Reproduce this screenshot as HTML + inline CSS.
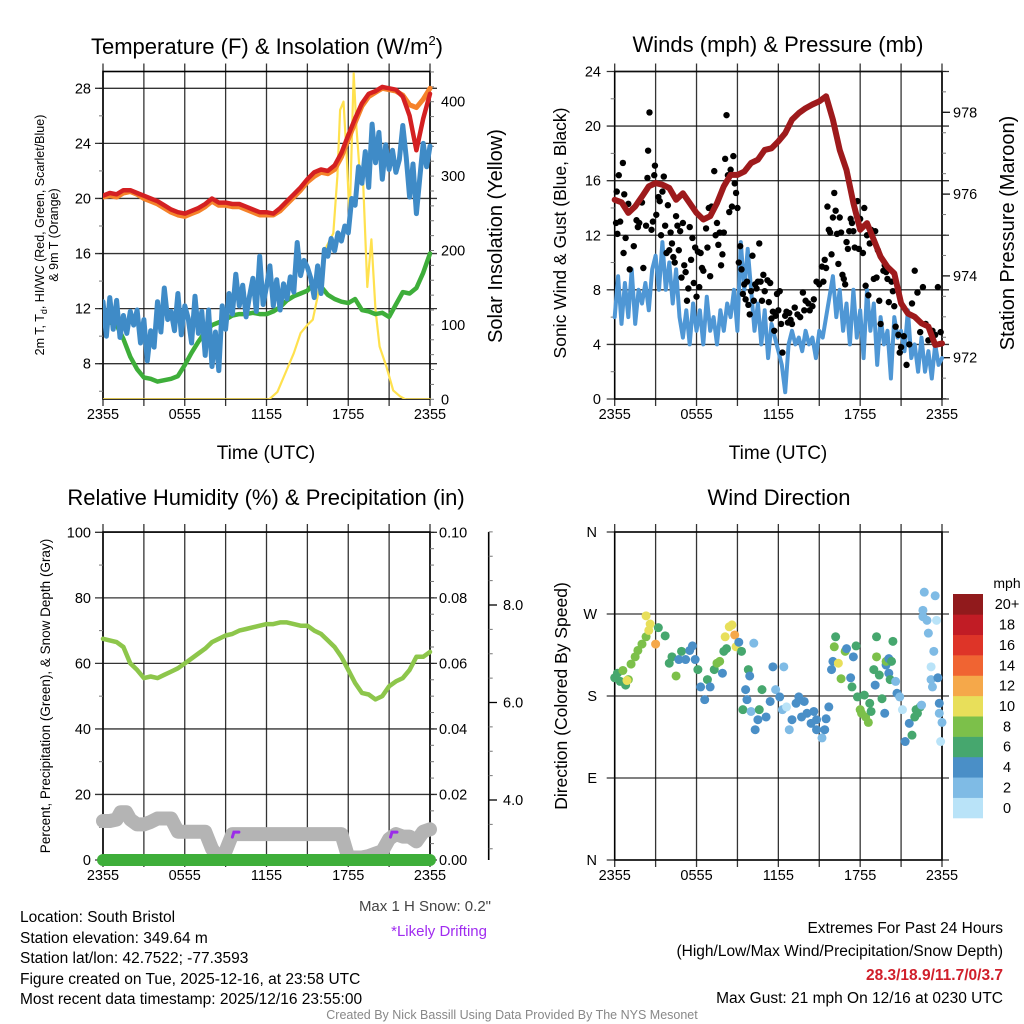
<!DOCTYPE html>
<html><head><meta charset="utf-8"><style>
html,body{margin:0;padding:0;background:#fff;}
svg{display:block;font-family:"Liberation Sans",Arial,sans-serif;}
</style></head><body>
<svg id="chart" xmlns="http://www.w3.org/2000/svg" width="1024" height="1024" viewBox="0 0 1024 1024">
<rect x="0" y="0" width="1024" height="1024" fill="#fff"/>
<text x="267" y="54" font-size="22" text-anchor="middle">Temperature (F) &amp; Insolation (W/m<tspan font-size="13" dy="-9">2</tspan><tspan dy="9">)</tspan></text>
<text x="778" y="52" font-size="22" text-anchor="middle">Winds (mph) &amp; Pressure (mb)</text>
<text x="266" y="505" font-size="22" text-anchor="middle">Relative Humidity (%) &amp; Precipitation (in)</text>
<text x="779" y="505" font-size="22" text-anchor="middle">Wind Direction</text>
<text x="266" y="459" font-size="19" text-anchor="middle">Time (UTC)</text>
<text x="778" y="459" font-size="19" text-anchor="middle">Time (UTC)</text>
<g transform="translate(44,235) rotate(-90)">
<text x="0" y="0" font-size="12.5" text-anchor="middle">2m T, T<tspan font-size="9" dy="3">d</tspan><tspan dy="-3">, HI/WC (Red, Green, Scarlet/Blue)</tspan></text>
<text x="0" y="14" font-size="12.5" text-anchor="middle">&amp; 9m T (Orange)</text></g>
<text transform="translate(502,236) rotate(-90)" font-size="20" text-anchor="middle">Solar Insolation (Yellow)</text>
<text transform="translate(566,233) rotate(-90)" font-size="17.5" text-anchor="middle">Sonic Wind &amp; Gust (Blue, Black)</text>
<text transform="translate(1014,233) rotate(-90)" font-size="20" text-anchor="middle">Station Pressure (Maroon)</text>
<text transform="translate(50,696) rotate(-90)" font-size="13.5" text-anchor="middle">Percent, Precipitation (Green), &amp; Snow Depth (Gray)</text>
<text transform="translate(567,696) rotate(-90)" font-size="17.5" text-anchor="middle">Direction (Colored By Speed)</text>
<text x="491" y="911" font-size="15" fill="#444" text-anchor="end">Max 1 H Snow: 0.2"</text>
<text x="487" y="936" font-size="15" fill="#a02cf0" text-anchor="end">*Likely Drifting</text>
<g font-size="15.5">
<text x="20" y="922">Location: South Bristol</text>
<text x="20" y="943">Station elevation: 349.64 m</text>
<text x="20" y="963">Station lat/lon: 42.7522; -77.3593</text>
<text x="20" y="984">Figure created on Tue, 2025-12-16, at 23:58 UTC</text>
<text x="20" y="1004">Most recent data timestamp: 2025/12/16 23:55:00</text></g>
<g font-size="15.5" text-anchor="end">
<text x="1003" y="933">Extremes For Past 24 Hours</text>
<text x="1003" y="956">(High/Low/Max Wind/Precipitation/Snow Depth)</text>
<text x="1003" y="980" fill="#d01f2a" font-weight="bold">28.3/18.9/11.7/0/3.7</text>
<text x="1003" y="1003">Max Gust: 21 mph On 12/16 at 0230 UTC</text></g>
<text x="512" y="1019" font-size="12.5" fill="#888" text-anchor="middle">Created By Nick Bassill Using Data Provided By The NYS Mesonet</text>
<text x="1007" y="588" font-size="14" text-anchor="middle">mph</text>
</svg>
<script>
// ---------- data ----------
const halfHours = [0,0.5,1,1.5,2,2.5,3,3.5,4,4.5,5,5.5,6,6.5,7,7.5,8,8.5,9,9.5,10,10.5,11,11.5,12,12.5,13,13.5,14,14.5,15,15.5,16,16.5,17,17.5,18,18.5,19,19.5,20,20.5,21,21.5,22,22.5,23,23.5,24];
const temp2m = [20.2,20.4,20.3,20.6,20.6,20.4,20.2,20.0,19.8,19.5,19.2,19.0,18.9,19.1,19.3,19.6,20.0,19.7,19.7,19.6,19.6,19.4,19.2,19.0,19.0,18.9,19.3,19.8,20.3,20.8,21.4,21.9,22.1,22.0,22.4,23.3,24.6,25.8,26.9,27.6,27.8,28.1,28.0,27.9,27.4,26.0,23.5,25.8,27.6];
const temp9m = [20.1,20.2,20.1,20.4,20.5,20.3,20.0,19.8,19.6,19.3,19.0,18.8,18.7,18.9,19.1,19.4,19.8,19.5,19.5,19.4,19.4,19.2,19.0,18.8,18.8,18.8,19.1,19.6,20.1,20.6,21.2,21.6,21.9,21.8,22.1,23.0,24.3,25.5,26.7,27.4,27.7,28.0,27.9,27.8,27.5,26.8,26.6,27.2,28.0];
const dewpoint = [11.3,11.0,10.8,9.8,8.5,7.6,7.0,6.9,6.7,6.8,6.9,7.1,7.9,8.8,9.6,10.3,10.8,11.0,11.2,11.5,11.6,11.6,11.7,11.6,11.6,11.8,12.1,12.6,12.9,13.1,13.3,13.9,13.6,13.0,12.7,12.5,12.4,12.7,11.9,11.8,11.6,11.7,11.4,12.3,13.2,13.1,13.5,14.6,16.0];
const windChill = [12.5,10,12.8,10.5,12.6,9.9,11.5,10.2,11.8,10.8,11.9,9.5,11.2,8.2,10.4,9.2,12.5,10.3,13.5,11.2,11.8,10.4,13.1,10.1,12.2,11.3,9.5,12.9,10.2,11.8,8.6,11.9,7.8,10.3,7.5,12.2,10.5,13.1,11.6,14.5,12.2,13.7,11.4,12.9,14.2,11.8,15.8,12.3,13.6,15.1,12.2,14.1,11.9,13.8,12.7,14.3,13.2,16.8,14.4,15.5,15.0,14.2,12.8,15.1,13.1,16.3,15.8,17.1,16.2,17.5,16.9,18.0,17.5,20.0,19.5,22.3,21.1,23.4,20.8,25.4,22.6,24.8,21.4,23.9,22.1,23.5,21.9,22.8,25.3,23.0,20.1,22.5,18.9,21.5,24.0,22.3,23.8];
const solarHours = [0,12.2,12.8,13.5,14.0,14.5,15.0,15.4,15.9,16.4,16.9,17.2,17.4,17.65,17.9,18.1,18.4,18.6,18.9,19.1,19.4,19.6,19.7,20.0,20.3,20.8,21.3,21.8,22.2,24];
const solarValues = [0,0,10,40,62,89,100,107,151,205,223,300,389,400,321,241,438,366,291,290,151,195,215,120,71,44,12,4,0,0];
const pressure = [975.86,975.8,975.54,975.7,975.94,976.19,976.27,976.23,976.15,975.86,976.02,975.78,975.54,975.38,975.46,975.78,976.19,976.47,976.47,976.55,976.76,976.84,977.08,977.12,977.29,977.49,977.82,977.98,978.1,978.19,978.27,978.39,977.82,977.08,976.59,975.78,975.13,975.29,974.88,974.47,974.22,974.06,973.33,973.08,973.0,972.84,972.76,972.31,972.35];
const windSpeed = [6,9,5.5,8.5,6,9.5,5.5,8,7,8.5,6.5,9.5,10.5,8,11.5,8,10,7,9.5,6,4.5,6.5,4,7,5,6.5,4,7.5,5,6,4,6.5,5,7,6,8,5,11.5,8,11,8,5,7,4,6.5,3,5.5,4.5,3.5,2.5,0.5,4,5,4,4.5,3.5,5,4,4.5,3,5,4.5,6,7.5,9,6,8,5,7,4,8,4.5,6.5,3,8,5,7,2.5,6,4,5,1.5,6,4.5,5,3.5,6.5,3,4,2,4.5,2,3.5,1.5,4,2.5,3];
const gustHours = [0.1,0.15,0.2,0.3,0.4,0.6,0.7,0.8,0.65,1.0,1.1,1.4,1.6,1.7,1.8,2.0,2.1,2.3,2.4,2.45,2.55,2.7,2.8,2.9,2.95,3.05,3.2,3.3,3.4,3.5,3.6,3.7,3.8,3.9,4.0,4.1,4.2,4.3,4.4,4.5,4.6,4.7,4.8,4.9,5.0,5.1,5.2,5.3,5.4,5.5,5.6,5.7,5.8,5.9,6.0,6.1,6.2,6.3,6.4,6.5,6.7,6.8,6.9,7.0,7.1,7.3,7.4,7.5,7.6,7.7,7.8,7.9,8.0,8.1,8.2,8.3,8.4,8.5,8.6,8.7,8.8,8.9,9.0,9.1,9.2,9.3,9.4,9.5,9.6,9.7,9.8,9.9,10.0,10.1,10.2,10.3,10.4,10.5,10.6,10.7,10.8,10.9,11.0,11.2,11.3,11.4,11.5,11.6,11.7,11.8,11.9,12.0,12.1,12.2,12.3,12.5,12.6,12.7,12.8,12.9,13.0,13.2,13.4,13.6,13.8,13.9,14.0,14.2,14.3,14.5,14.6,14.8,15.0,15.2,15.3,15.4,15.5,15.6,15.7,15.8,15.9,16.0,16.1,16.2,16.3,16.4,16.5,16.6,16.7,16.8,16.9,17.0,17.1,17.2,17.3,17.4,17.5,17.6,17.8,17.9,18.0,18.1,18.2,18.3,18.4,18.5,18.6,18.7,18.8,19.0,19.1,19.2,19.3,19.4,19.5,19.7,19.8,19.9,20.0,20.1,20.3,20.4,20.5,20.6,20.8,20.9,21.0,21.2,21.4,21.6,21.8,22.0,22.2,22.4,22.6,22.8,23.0,23.3,23.5,23.7,23.9];
const gustValues = [12.9,15.2,12.1,16.4,13,17.3,15,11.8,10.7,14.3,9.5,11.2,13.1,12.6,12.9,14.4,9.6,12.7,16.2,18.2,21.0,12.4,13,16.4,17.1,13.5,14.8,14.5,12,15.2,16.3,12.7,10.7,14.2,10.9,12.2,11.4,10.4,10.0,13.4,12.7,10.9,12.3,8.9,12.9,9.8,9.3,7.2,8.1,12.6,10.2,11.8,8.5,11.1,7.5,10.8,8.2,10.7,9.6,9.4,12.5,11.1,14,9.0,14.1,16.7,12.0,12.9,11.3,12.2,9.8,10.6,12.2,17.6,20.8,16.4,13.7,16.8,14.1,17.8,15.8,15.1,14.0,10.0,11.2,9.5,7.7,8.4,7.3,8.6,6.9,6.2,7.9,10.5,7.2,8.4,8.1,8.6,11.4,8.6,7.2,9.1,7.9,8.7,7.1,8.5,5.9,6.4,5.0,6.1,7.7,6.5,7.9,5.5,3.4,6.1,6.4,5.6,6.3,5.8,5.5,6.7,6.2,6.0,7.8,6.5,7.2,7.0,6.5,6.8,7.3,8.6,8.4,9.7,8.6,10.2,9.6,14.1,12.4,12.2,10.6,13.3,15.1,13.8,12.1,9.9,13.3,12.2,9.1,8.8,8.4,11.5,11.0,12.3,13.2,12.9,12.3,11.1,14.5,11.0,13.2,12.6,10.7,14.0,8.3,12.0,7.6,11.4,12.4,8.8,12.3,8.9,10.9,7.2,5.5,9.4,9.8,9.3,8.8,7.1,8.6,7.9,6.8,5.3,4.7,3.4,3.8,4.6,2.5,4.0,7.0,9.4,7.8,4.9,8.2,5.5,4.3,5.0,4.7,8.2,4.9];
const relHumidity = [67.5,67,66.5,65,60,58,55.5,56,55.5,56.5,57.5,58.5,60,61.5,63,64.5,66.5,67.5,68.5,69,70,70.5,71,71.5,72,72,72.5,72.5,72,71.5,71.5,70,69,67,65,62,58,54,51,50.5,49,50,53,54.5,55.5,58,62,62,63.5];
const snowHours = [0,0.5,1,1.3,1.7,2,2.5,3,3.5,4,4.5,5,5.5,6,7,7.5,8,8.5,9,9.5,10,12,14,16,17.5,18,19,19.5,20,20.5,21,21.5,22,22.5,23,23.5,24];
const snowDepth = [3.57,3.57,3.6,3.75,3.75,3.6,3.5,3.5,3.55,3.62,3.62,3.62,3.35,3.35,3.35,3.35,3.0,2.8,2.95,3.3,3.3,3.3,3.3,3.3,3.3,2.82,2.82,2.85,2.9,2.95,3.2,3.3,3.25,3.25,3.15,3.35,3.4];
const precipHours = [0,24];
const precipValues = [0,0];
const driftStartHours = [9.5,21.1];
const dirHours = [0.0,0.2,0.4,0.6,0.8,1.0,0.9,1.2,1.5,1.7,2.0,2.3,2.5,2.3,2.6,3.0,3.2,3.7,4.0,4.2,4.5,4.7,4.9,5.2,5.5,5.7,5.9,6.1,6.3,6.6,6.8,7.0,7.3,7.5,7.7,8.0,8.2,7.9,8.1,8.4,8.6,8.8,8.9,9.1,9.3,9.4,9.6,9.7,9.8,9.9,10.0,10.2,10.3,10.5,10.6,10.8,11.1,11.4,11.6,11.8,12.1,12.3,12.4,12.6,12.8,13.0,13.3,13.5,13.7,13.9,14.1,14.4,14.6,14.8,14.8,15.2,15.4,15.5,15.7,15.9,16.0,16.2,16.1,16.4,16.6,16.9,17.0,17.3,17.4,17.5,17.7,17.8,18.0,18.1,18.3,18.4,18.6,18.7,18.8,19.0,19.1,19.2,19.2,19.4,19.6,19.8,19.9,19.9,20.1,20.1,20.3,20.4,20.2,20.6,20.7,20.9,21.1,21.3,21.6,21.8,22.0,22.1,22.2,22.4,22.5,22.6,22.7,22.6,22.9,23.0,23.2,23.2,23.3,23.4,23.5,23.6,23.7,23.8,23.8,24.0,23.9];
const dirDegrees = [200,205,196,208,192,198,197,215,223,230,237,245,252,268,259,237,255,246,216,223,202,220,229,220,230,235,220,209,190,176,198,190,209,216,218,229,232,205,245,256,258,247,234,239,229,165,187,176,209,202,163,238,143,154,165,187,157,174,212,187,179,165,212,168,143,154,172,179,157,174,161,150,163,154,143,134,143,155,168,209,218,245,234,216,199,229,232,200,190,223,235,179,165,161,181,157,151,172,163,209,192,245,223,203,177,161,214,218,205,221,218,240,198,196,183,179,165,130,150,137,157,165,161,168,170,267,294,274,263,249,198,212,190,229,290,263,200,172,161,151,130,317,24,143,137];
const dirSpeeds = [7,6,7,8,7,8,10,8,8,9,8,9,10,10,10,12,7,6,7,6,8,5,6,4,5,4,5,6,5,4,7,4,7,8,8,7,7,5,10,10,11,13,10,4,6,6,5,4,7,4,3,2,4,4,6,7,4,4,5,3,4,3,2,1,2,4,4,4,4,4,4,4,4,4,4,2,4,4,4,5,4,7,9,10,8,9,5,4,6,5,7,6,8,8,7,8,8,7,7,6,4,7,9,6,6,5,4,8,5,5,7,7,7,3,5,2,1,5,5,7,6,7,7,7,3,3,3,3,3,3,2,1,3,2,3,1,4,4,3,3,1,3,2,4,1];
const tempTicks = [8,12,16,20,24,28];
const solarTicks = [0,100,200,300,400];
const windTicks = [0,4,8,12,16,20,24];
const pressureTicks = [972,974,976,978];
const rhTicks = [0,20,40,60,80,100];
const precipTicks = ["0.00","0.02","0.04","0.06","0.08","0.10"];
const snowTicks = ["4.0","6.0","8.0"];
const dirTicks = ["N","E","S","W","N"];
const timeTicks = ["2355","0555","1155","1755","2355"];
const speedBins = ["0","2","4","6","8","10","12","14","16","18","20+"];
const binColors = ["#b9e3f8","#7fbbe5","#4a8fc7","#46a76e","#7cc04a","#e8df5a","#f5a84a","#f06432","#de3428","#c11c25","#911a1c"];

// ---------- helpers ----------
const NS = "http://www.w3.org/2000/svg";
const svg = document.getElementById("chart");
function mk(tag, attrs, parent) {
  const e = document.createElementNS(NS, tag);
  for (const k in attrs) e.setAttribute(k, attrs[k]);
  (parent || svg).appendChild(e);
  return e;
}
function lin(d0, d1, r0, r1) { return v => r0 + (v - d0) / (d1 - d0) * (r1 - r0); }
function pathD(xs, ys, fx, fy) {
  let d = "";
  for (let i = 0; i < xs.length; i++) d += (i ? "L" : "M") + fx(xs[i]).toFixed(1) + "," + fy(ys[i]).toFixed(1);
  return d;
}
const quarterHours = windChill.map((_, i) => i * 0.25);

function frame(name, x0, x1, y0, y1) {
  const g = mk("g", {});
  
  
  const fx = lin(0, 24, x0, x1);
  for (let k = 0; k <= 8; k++) {
    const l = mk("line", {x1: fx(k * 3), x2: fx(k * 3), y1: y0 - 8, y2: y1 + 7, stroke: "#111", "stroke-width": 1.3, "stroke-opacity": 0.85}, g);
    
    
  }
  timeTicks.forEach((lab, i) => {
    const t = mk("text", {x: fx(i * 6), y: y1 + 20, "font-size": 14.5, "text-anchor": "middle"}, g);
    t.textContent = lab;
    
    
  });
  const r = mk("rect", {x: x0, y: y0, width: x1 - x0, height: y1 - y0, fill: "none", stroke: "#000", "stroke-width": 1.6}, g);
  
  
  return {g, fx};
}
function hTicks(g, vals, labels, fy, x0, x1, grid, side, lx) {
  vals.forEach((v, i) => {
    const y = fy(v);
    const l = mk("line", {x1: grid ? x0 - 8 : (side === "L" ? x0 - 8 : x1), x2: grid ? x1 + 7 : (side === "L" ? x0 : x1 + 7), y1: y, y2: y, stroke: "#111", "stroke-width": 1.3, "stroke-opacity": 0.85}, g);
    
    
    const t = mk("text", {x: lx, y: y + 5, "font-size": 14.5, "text-anchor": side === "L" ? "end" : "start"}, g);
    t.textContent = labels[i];
    
    
  });
}
function minor(g, from, to, step, fy, x, dir, len) {
  for (let v = from; v <= to + 1e-9; v += step) {
    const y = fy(v);
    const l = mk("line", {x1: x, x2: x + dir * len, y1: y, y2: y, stroke: "#777", "stroke-width": 1}, g);
    
    
  }
}
function line(name, xs, ys, fx, fy, color, w, g) {
  const p = mk("path", {d: pathD(xs, ys, fx, fy), fill: "none", stroke: color, "stroke-width": w, "stroke-linejoin": "round", "stroke-linecap": "round"}, g);
  
  
  return p;
}

// ---------- panel 1: temperature ----------
(function () {
  const x0 = 103, x1 = 430, y0 = 71.5, y1 = 399;
  const {g, fx} = frame("temp", x0, x1, y0, y1);
  const fy = lin(28, 8, 88.3, 363.7);
  const fs = lin(0, 400, 399.3, 101.7);
  minor(g, 6, 28, 2, fy, x0, -1, 4);
  minor(g, 0, 440, 20, fs, x1, 1, 4);
  hTicks(g, tempTicks, tempTicks.map(String), fy, x0, x1, true, "L", 91);
  solarTicks.forEach(v => {
    const t = mk("text", {x: 441, y: fs(v) + 5, "font-size": 14.5}, g);
    t.textContent = String(v);
    
    
  });
  const clip = mk("clipPath", {id: "c1"});
  mk("rect", {x: x0, y: y0 - 6, width: x1 - x0 + 4, height: y1 - y0 + 6}, clip);
  const s = mk("g", {"clip-path": "url(#c1)"}, g);
  
  
  line("solar-insolation-line", solarHours, solarValues, fx, fs, "#ffe14e", 2.2, s);
  line("dewpoint-line", halfHours, dewpoint, fx, fy, "#3eae3a", 4.5, s);
  line("wind-chill-line", quarterHours, windChill, fx, fy, "#3f8bc7", 5, s);
  line("temp-9m-line", halfHours, temp9m, fx, fy, "#f5822a", 5, s);
  line("temp-2m-line", halfHours, temp2m, fx, fy, "#d42022", 4.5, s);
})();

// ---------- panel 2: winds ----------
(function () {
  const x0 = 614.7, x1 = 942, y0 = 71.5, y1 = 399;
  const {g, fx} = frame("wind", x0, x1, y0, y1);
  const fy = lin(0, 24, 399, 71.5);
  const fp = lin(972, 978, 357.7, 112.3);
  minor(g, 2, 22, 4, fy, x0, -1, 4);
  minor(g, 971, 979, 0.5, fp, x1, 1, 4);
  hTicks(g, windTicks, windTicks.map(String), fy, x0, x1, true, "L", 601);
  pressureTicks.forEach(v => {
    const l = mk("line", {x1: x1, x2: x1 + 8, y1: fp(v), y2: fp(v), stroke: "#111", "stroke-width": 1.3}, g);
    
    
    const t = mk("text", {x: 953, y: fp(v) + 5, "font-size": 14.5}, g);
    t.textContent = String(v);
    
    
  });
  line("wind-speed-line", quarterHours, windSpeed, fx, fy, "#4f97d5", 4, g);
  gustHours.forEach((h, i) => {
    const c = mk("circle", {cx: fx(h), cy: fy(gustValues[i]), r: 3.2, fill: "#000"}, g);
    
    
  });
  line("pressure-line", halfHours, pressure, fx, fp, "#9e1a1c", 6, g);
})();

// ---------- panel 3: humidity ----------
(function () {
  const x0 = 103, x1 = 430, y0 = 532, y1 = 860;
  const {g, fx} = frame("rh", x0, x1, y0, y1);
  const fy = lin(0, 100, 860, 532.3);
  const fr = lin(0, 0.1, 860, 532.3);
  const fsn = lin(4, 8, 800, 605);
  minor(g, 10, 90, 20, fy, x0, -1, 4);
  minor(g, 0, 0.1, 0.005, fr, x1, 1, 4);
  hTicks(g, rhTicks, rhTicks.map(String), fy, x0, x1, true, "L", 91);
  precipTicks.forEach((lab, i) => {
    const t = mk("text", {x: 439, y: fr(i * 0.02) + 5, "font-size": 14.5}, g);
    t.textContent = lab;
    
    
  });
  const ax = mk("line", {x1: 488.7, x2: 488.7, y1: 532, y2: 860, stroke: "#000", "stroke-width": 1.6}, g);
  
  
  minor(g, 3, 9.5, 0.5, fsn, 488.7, 1, 4);
  snowTicks.forEach(lab => {
    const v = parseFloat(lab);
    const l = mk("line", {x1: 488.7, x2: 497, y1: fsn(v), y2: fsn(v), stroke: "#000", "stroke-width": 1.3}, g);
    
    
    const t = mk("text", {x: 503, y: fsn(v) + 5, "font-size": 14.5}, g);
    t.textContent = lab;
    
    
  });
  line("snow-depth-line", snowHours, snowDepth, fx, fsn, "#b4b4b4", 14, g);
  line("relative-humidity-line", halfHours, relHumidity, fx, fy, "#8dc64b", 4.5, g);
  driftStartHours.forEach(h => {
    const p = mk("path", {d: "M" + fx(h).toFixed(1) + "," + (fsn(3.3) + 3).toFixed(1) + "l1.5,-5l5,0", fill: "none", stroke: "#9b2ce9", "stroke-width": 3, "stroke-linecap": "round"}, g);
    
    
  });
  line("precipitation-line", precipHours, precipValues, fx, fr, "#3eae3a", 12, g);
})();

// ---------- panel 4: wind direction ----------
(function () {
  const x0 = 614.7, x1 = 942, y0 = 532, y1 = 860;
  const {g, fx} = frame("direction", x0, x1, y0, y1);
  const fd = lin(0, 360, 860, 532);
  hTicks(g, [0, 90, 180, 270, 360], dirTicks, fd, x0, x1, true, "L", 597);
  dirHours.forEach((h, i) => {
    const b = Math.min(10, Math.floor(dirSpeeds[i] / 2));
    const c = mk("circle", {cx: fx(h), cy: fd(dirDegrees[i]), r: 4.5, fill: binColors[b]}, g);
    
    
  });
  const cb = mk("g", {});
  
  
  const bh = (818 - 594) / speedBins.length;
  speedBins.forEach((lab, i) => {
    const yy = 818 - (i + 1) * bh;
    const r = mk("rect", {x: 953, y: yy, width: 30, height: bh + 0.3, fill: binColors[i]}, cb);
    
    
    const t = mk("text", {x: 1007, y: yy + bh / 2 + 5, "font-size": 14.5, "text-anchor": "middle"}, cb);
    t.textContent = lab;
    
    
  });
})();
</script>
</body></html>
